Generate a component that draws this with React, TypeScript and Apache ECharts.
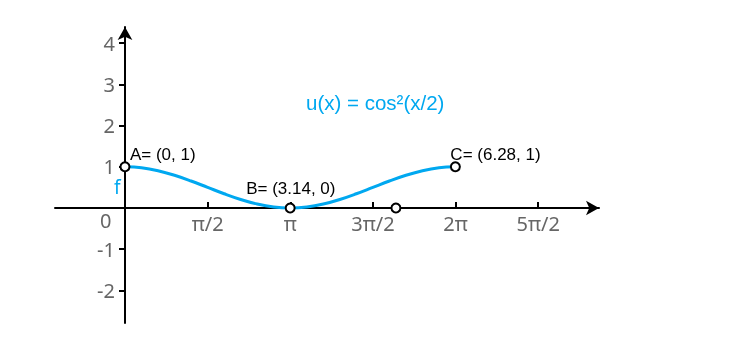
import React, { useEffect, useRef } from "react";
import * as echarts from "echarts";

const curveX = [0, 0.314, 0.628, 0.942, 1.257, 1.571, 1.885, 2.199, 2.513, 2.827, 3.142, 3.456, 3.77, 4.084, 4.398, 4.712, 5.027, 5.341, 5.655, 5.969, 6.283];
const curveY = [1, 0.9755, 0.9045, 0.7939, 0.6545, 0.5, 0.3455, 0.2061, 0.0955, 0.0245, 0, 0.0245, 0.0955, 0.2061, 0.3455, 0.5, 0.6545, 0.7939, 0.9045, 0.9755, 1];

const pointNames = ["A= (0, 1)", "B= (3.14, 0)", "C= (6.28, 1)", ""];
const pointX = [0, 3.14, 6.28, 5.15];
const pointY = [1, 0, 1, 0];

const xTickValues = [Math.PI / 2, Math.PI, (3 * Math.PI) / 2, 2 * Math.PI, (5 * Math.PI) / 2];
const xTickLabels = ["π/2", "π", "3π/2", "2π", "5π/2"];
const yTickValues = [-2, -1, 1, 2, 3, 4];
const originLabel = "0";
const curveName = "f";
const formulaText = "u(x) = cos²(x/2)";

const BLUE = "#00a8f0";
const labelOffsets: number[][] = [
  [10.5, -6.5],
  [-38.5, -13.5],
  [0.5, -6.5],
  [0, 0],
];

export default function App() {
  const ref = useRef<HTMLDivElement>(null);
  useEffect(() => {
    if (!ref.current) return;
    const chart = echarts.init(ref.current, null, { renderer: "svg" });
    const xFormatter = (v: number) => {
      let best = 0;
      let bd = Infinity;
      xTickValues.forEach((t, i) => {
        const d = Math.abs(t - v);
        if (d < bd) {
          bd = d;
          best = i;
        }
      });
      return xTickLabels[best];
    };
    chart.setOption({
      animation: false,
      grid: { left: 55, right: 151, top: 27, bottom: 27, containLabel: false, outerBoundsMode: "none" },
      xAxis: {
        type: "value",
        min: -1.33,
        max: 9.01,
        offset: -115,
        axisLine: {
          onZero: false,
          lineStyle: { color: "#000", width: 2 },
          symbol: ["none", "arrow"],
          symbolSize: [11, 13],
        },
        axisTick: { inside: true, length: 6, lineStyle: { color: "#000", width: 2 }, customValues: xTickValues },
        axisLabel: {
          customValues: xTickValues,
          formatter: xFormatter,
          color: "#666",
          fontSize: 20,
          fontFamily: "Noto Sans",
          margin: 5,
        },
        splitLine: { show: false },
      },
      yAxis: {
        type: "value",
        min: -2.79,
        max: 4.39,
        offset: -70,
        axisLine: {
          onZero: false,
          lineStyle: { color: "#000", width: 2 },
          symbol: ["none", "arrow"],
          symbolSize: [11, 13],
        },
        axisTick: { inside: false, length: 6, lineStyle: { color: "#000", width: 2 }, customValues: yTickValues },
        axisLabel: {
          customValues: yTickValues,
          color: "#666",
          fontSize: 20,
          fontFamily: "Noto Sans",
          margin: 10,
        },
        splitLine: { show: false },
      },
      series: [
        {
          type: "line",
          data: curveX.map((x, i) => [x, curveY[i]]),
          smooth: 0.4,
          showSymbol: false,
          lineStyle: { color: BLUE, width: 3 },
          z: 2,
          silent: true,
        },
        {
          type: "scatter",
          data: pointX.map((x, i) => ({
            value: [x, pointY[i]],
            label: {
              show: pointNames[i] !== "",
              formatter: pointNames[i],
              position: labelOffsets[i],
              align: "left",
              verticalAlign: "middle",
              color: "#000",
              fontSize: 17,
              fontFamily: "Liberation Sans",
            },
          })),
          symbol: "circle",
          symbolSize: 9,
          itemStyle: { color: "#fff", borderColor: "#000", borderWidth: 2, opacity: 1 },
          z: 3,
        },
      ],
      graphic: [
        {
          type: "text",
          left: 306,
          top: 92,
          style: { text: formulaText, fill: BLUE, fontSize: 20.5, fontFamily: "Liberation Sans" },
        },
        {
          type: "text",
          left: 114,
          top: 177,
          style: { text: curveName, fill: BLUE, fontSize: 19, fontFamily: "Noto Sans" },
        },
        {
          type: "text",
          left: 100,
          top: 210,
          style: { text: originLabel, fill: "#666", fontSize: 20, fontFamily: "Noto Sans" },
        },
      ],
    });
    return () => chart.dispose();
  }, []);
  return <div ref={ref} style={{ position: "fixed", left: 0, top: 0, width: 750, height: 350 }} />;
}
